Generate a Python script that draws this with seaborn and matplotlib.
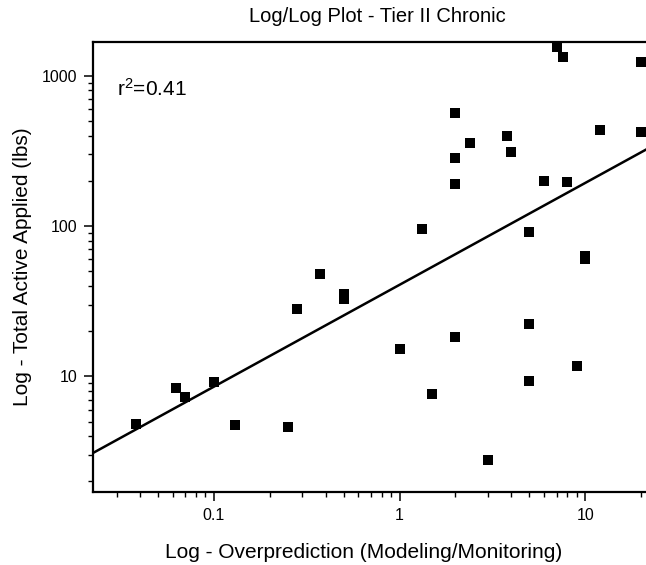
import numpy as np
import pandas as pd
import matplotlib
matplotlib.use("Agg")
import matplotlib.pyplot as plt
import matplotlib.ticker as mticker
import seaborn as sns

# Data
overprediction = [0.038, 0.0626, 0.070, 0.1, 0.13, 0.25, 0.28, 0.373, 0.5, 0.5,
                  1.0, 1.32, 1.5, 2, 2, 2, 2, 2.39, 3, 3.8,
                  4, 5, 5, 5, 6, 7, 7.6, 8, 9, 10,
                  10, 12, 20, 20]
active_applied = [4.8, 8.4, 7.3, 9.2, 4.75, 4.6, 28, 48, 35.5, 32.5,
                  15.1, 95, 7.6, 18.3, 565, 284, 190, 358, 2.77, 399,
                  309, 91.6, 22.2, 9.35, 198, 1560, 1337, 195, 11.7, 63,
                  60, 433, 1233, 424]
# log-log regression line: log10(y) = intercept + slope*log10(x)
fit_intercept = 1.609
fit_slope = 0.678
r2_label = r"r$\mathregular{^2}$=0.41"
x_ticks = [0.1, 1, 10]
x_tick_labels = ["0.1", "1", "10"]
y_ticks = [10, 100, 1000]
y_tick_labels = ["10", "100", "1000"]

df = pd.DataFrame({"x": overprediction, "y": active_applied})

sns.set_theme(style="white")
plt.rcParams["font.family"] = ["Liberation Sans", "DejaVu Sans"]
plt.rcParams["mathtext.default"] = "regular"

W, H = 646, 565
fig = plt.figure(figsize=(W / 100, H / 100), dpi=100)
left_px, right_px, top_px, bottom_px = 93, 674, 42.3, 491.7
ax_w, ax_h = right_px - left_px, bottom_px - top_px
ax = fig.add_axes([left_px / W, (H - bottom_px) / H, ax_w / W, ax_h / H])

xlim = (0.0224, 30)
ylim = (1.71, 1667)

sns.scatterplot(data=df, x="x", y="y", ax=ax, marker="s", color="black",
                s=56, linewidth=0, zorder=3, clip_on=True)

lx = np.array(xlim)
ly = 10 ** (fit_intercept + fit_slope * np.log10(lx))
ax.plot(lx, ly, color="black", linewidth=1.8, zorder=2)

ax.set_xscale("log")
ax.set_yscale("log")
ax.set_xlim(*xlim)
ax.set_ylim(*ylim)

ax.xaxis.set_major_locator(mticker.FixedLocator(x_ticks))
ax.xaxis.set_major_formatter(mticker.FixedFormatter(x_tick_labels))
ax.yaxis.set_major_locator(mticker.FixedLocator(y_ticks))
ax.yaxis.set_major_formatter(mticker.FixedFormatter(y_tick_labels))
ax.xaxis.set_minor_locator(mticker.LogLocator(base=10, subs=np.arange(2, 10), numticks=20))
ax.yaxis.set_minor_locator(mticker.LogLocator(base=10, subs=np.arange(2, 10), numticks=20))
ax.xaxis.set_minor_formatter(mticker.NullFormatter())
ax.yaxis.set_minor_formatter(mticker.NullFormatter())

ax.tick_params(which="major", direction="out", length=6.5, width=1.1, color="black",
               labelsize=11.5, labelcolor="black", pad=5,
               bottom=True, left=True, top=False, right=False)
ax.tick_params(which="minor", direction="out", length=3.6, width=1.0, color="black",
               bottom=True, left=True, top=False, right=False)

for side in ["left", "bottom", "top"]:
    ax.spines[side].set_visible(True)
    ax.spines[side].set_color("black")
    ax.spines[side].set_linewidth(1.6)
ax.spines["right"].set_visible(False)

ax.set_xlabel("Log - Overprediction (Modeling/Monitoring)", fontsize=15, color="black")
ax.set_ylabel("Log - Total Active Applied (lbs)", fontsize=15, color="black")
ax.xaxis.set_label_coords((364 - left_px) / ax_w, (bottom_px - 543) / ax_h)
ax.yaxis.set_label_coords((32 - left_px) / ax_w, 0.5)

fig.text(377 / W, 1 - 17 / H, "Log/Log Plot - Tier II Chronic", ha="center", va="center",
         fontsize=14.5, color="black")
ax.text((117 - left_px) / ax_w, 1 - (89 - top_px) / ax_h,
        r2_label, transform=ax.transAxes, ha="left", va="center", fontsize=15, color="black")

fig.savefig("out.png", dpi=100)
